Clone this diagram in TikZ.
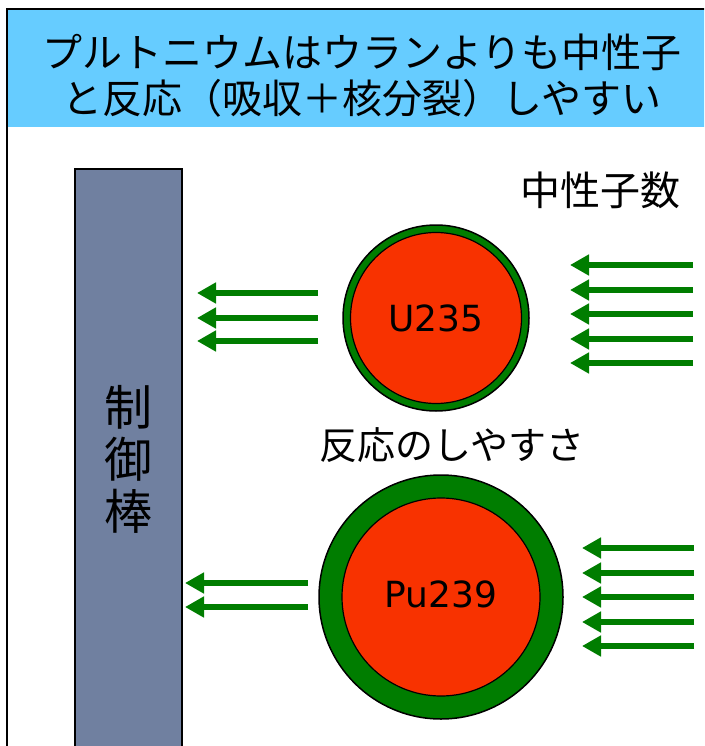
\documentclass[tikz,border=0pt]{standalone}
\usepackage{fontspec}
\setmainfont{DejaVu Sans}
\newfontfamily\jp{Noto Sans CJK JP}
\usetikzlibrary{arrows.meta}
\definecolor{hdr}{RGB}{102,204,255}
\definecolor{rodc}{RGB}{112,128,160}
\definecolor{grn}{RGB}{0,125,0}
\definecolor{nuc}{RGB}{248,50,0}
\tikzset{
  flow/.style={draw=grn, line width=6pt, -{Triangle[length=19pt,width=20pt]}},
  ring/.style={circle, draw=black, fill=grn, line width=1.5pt, inner sep=0pt},
  core/.style={circle, draw=black, fill=nuc, line width=1.2pt, inner sep=0pt},
  lbl/.style={font=\fontsize{36}{40}\selectfont},
  jtxt/.style={font=\jp\fontsize{38}{46}\selectfont, inner sep=0pt},
}
\begin{document}
\begin{tikzpicture}[x=1pt,y=-1pt]
\useasboundingbox (0,0) rectangle (704,746);
\clip (0,0) rectangle (704,746);
% header band and frame
\fill[hdr] (8,10) rectangle (710,127);
\draw[line width=2.5pt] (7,9) rectangle (720,770);
\node[jtxt, font=\jp\fontsize{40}{46}\selectfont, align=center] (title) at (362,76) {プルトニウムはウランよりも中性子\\と反応（吸収＋核分裂）しやすい};
% control rod
\draw[fill=rodc, line width=2.5pt] (75,169) rectangle (182,770);
\node[font=\jp\fontsize{48}{52}\selectfont, align=center, inner sep=0pt] (rodlbl) at (128,459) {制\\御\\棒};
% labels
\node[jtxt, font=\jp\fontsize{40}{46}\selectfont] (ns) at (600,190) {中性子数};
\node[jtxt] (ease) at (452,445) {反応のしやすさ};
% U235
\node[ring, minimum size=186pt] (uo) at (436,318) {};
\node[core, minimum size=171pt] (ui) at (uo.center) {};
\node[lbl] (ut) at (uo.center) {U235};
% Pu239
\node[ring, minimum size=244pt] (po) at (441,597) {};
\node[core, minimum size=198pt] (pi) at (po.center) {};
\node[lbl] (pt) at ([yshift=3pt]po.center) {Pu239};
% incoming neutrons (top)
\foreach \i/\y in {1/265,2/290,3/314,4/339,5/363}{
  \coordinate (ta\i) at (693,\y);
  \coordinate (tb\i) at (570,\y);
  \draw[flow] (ta\i) -- (tb\i);
}
% incoming neutrons (bottom)
\foreach \i/\y in {1/548,2/573,3/597,4/622,5/646}{
  \coordinate (ba\i) at (694,\y);
  \coordinate (bb\i) at (582,\y);
  \draw[flow] (ba\i) -- (bb\i);
}
% outgoing from U235
\foreach \i/\y in {1/293,2/318,3/341}{
  \coordinate (ua\i) at (318,\y);
  \coordinate (ub\i) at (197,\y);
  \draw[flow] (ua\i) -- (ub\i);
}
% outgoing from Pu239
\foreach \i/\y in {1/583,2/607}{
  \coordinate (pa\i) at (308,\y);
  \coordinate (pb\i) at (185,\y);
  \draw[flow] (pa\i) -- (pb\i);
}
\end{tikzpicture}
\end{document}
